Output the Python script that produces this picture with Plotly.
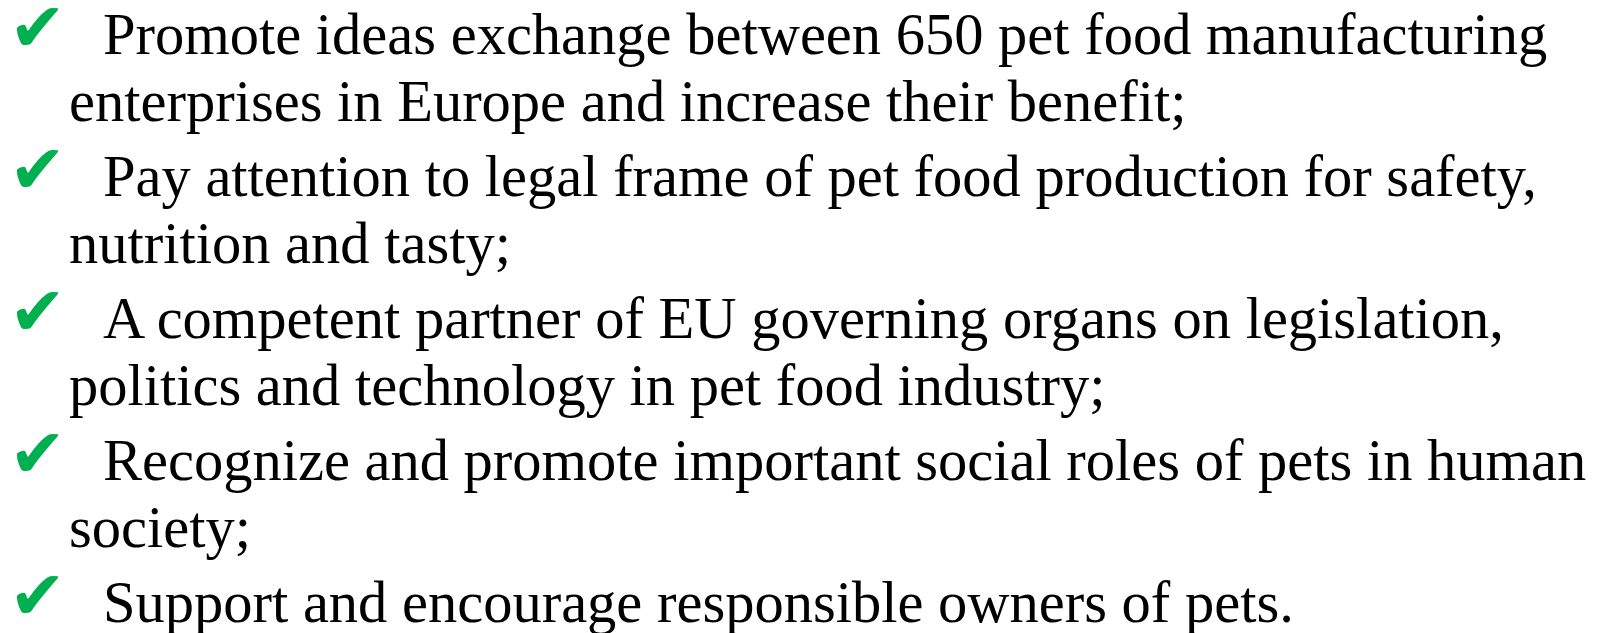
import plotly.graph_objects as go

# Bullet items (each item: list of wrapped lines)
items = [
    ["Promote ideas exchange between 650 pet food manufacturing",
     "enterprises in Europe and increase their benefit;"],
    ["Pay attention to legal frame of pet food production for safety,",
     "nutrition and tasty;"],
    ["A competent partner of EU governing organs on legislation,",
     "politics and technology in pet food industry;"],
    ["Recognize and promote important social roles of pets in human",
     "society;"],
    ["Support and encourage responsible owners of pets."],
]
bullet_symbol = "\u2714"

W, H = 1609, 633
FONT = "Liberation Serif"
SIZE = 58.5
first_baseline = 53
line_step = 67
item_step = 75
mid_offset = 0.45 * SIZE   # baseline -> middle of text box

fig = go.Figure()
anns = []
y = first_baseline
for item in items:
    anns.append(dict(x=1, y=y - 34, text=bullet_symbol, xanchor="left", yanchor="middle",
                     showarrow=False, borderpad=0, borderwidth=0,
                     font=dict(family="DejaVu Sans", size=68, color="#00B050")))
    for j, line in enumerate(item):
        x0 = 95 if j == 0 else 61
        anns.append(dict(x=x0, y=y - mid_offset, text=line, xanchor="left", yanchor="middle",
                         showarrow=False, borderpad=0, borderwidth=0,
                         font=dict(family=FONT, size=SIZE, color="#000000")))
        y += line_step if j < len(item) - 1 else 0
    y += item_step

fig.update_layout(
    width=W, height=H,
    margin=dict(l=0, r=0, t=0, b=0),
    paper_bgcolor="white", plot_bgcolor="white",
    xaxis=dict(range=[0, W], visible=False, fixedrange=True),
    yaxis=dict(range=[H, 0], visible=False, fixedrange=True),
    annotations=anns,
    showlegend=False,
)
fig.write_html("out.html", config={"displayModeBar": False})
